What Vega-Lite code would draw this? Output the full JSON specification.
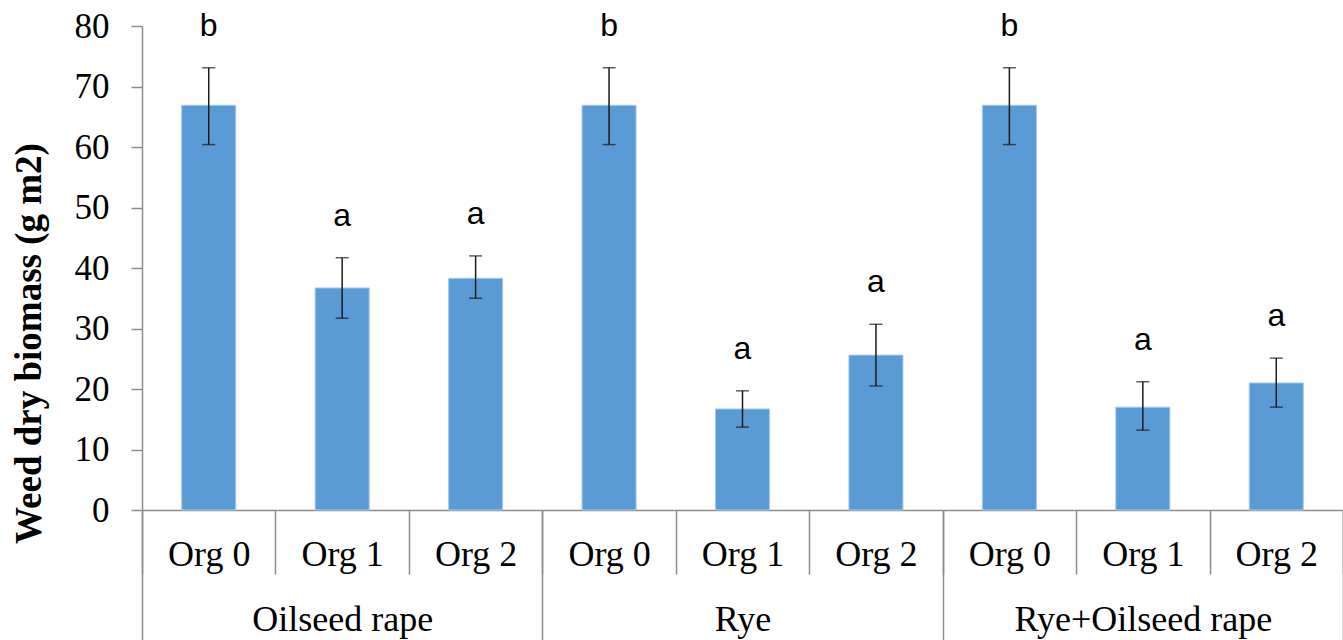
{
  "$schema": "https://vega.github.io/schema/vega-lite/v6.json",
  "autosize": "none",
  "width": 1201,
  "height": 484,
  "padding": {"left": 142, "top": 26, "right": 0, "bottom": 130},
  "background": "white",
  "config": {"view": {"stroke": null}},
  "data": {"values": [
    {"key": "OSR|Org 0", "group": "Oilseed rape", "org": "Org 0", "mean": 66.9, "lower": 60.4, "upper": 73.1, "letter": "b"},
    {"key": "OSR|Org 1", "group": "Oilseed rape", "org": "Org 1", "mean": 36.7, "lower": 31.7, "upper": 41.7, "letter": "a"},
    {"key": "OSR|Org 2", "group": "Oilseed rape", "org": "Org 2", "mean": 38.3, "lower": 35.0, "upper": 42.0, "letter": "a"},
    {"key": "Rye|Org 0", "group": "Rye", "org": "Org 0", "mean": 66.9, "lower": 60.4, "upper": 73.1, "letter": "b"},
    {"key": "Rye|Org 1", "group": "Rye", "org": "Org 1", "mean": 16.7, "lower": 13.7, "upper": 19.7, "letter": "a"},
    {"key": "Rye|Org 2", "group": "Rye", "org": "Org 2", "mean": 25.6, "lower": 20.5, "upper": 30.7, "letter": "a"},
    {"key": "RO|Org 0", "group": "Rye+Oilseed rape", "org": "Org 0", "mean": 66.9, "lower": 60.4, "upper": 73.1, "letter": "b"},
    {"key": "RO|Org 1", "group": "Rye+Oilseed rape", "org": "Org 1", "mean": 17.0, "lower": 13.2, "upper": 21.2, "letter": "a"},
    {"key": "RO|Org 2", "group": "Rye+Oilseed rape", "org": "Org 2", "mean": 21.0, "lower": 17.0, "upper": 25.1, "letter": "a"}
  ]},
  "resolve": {"scale": {"x": "independent"}, "axis": {"x": "independent"}},
  "layer": [
    {
      "layer": [
        {
          "mark": {"type": "bar", "color": "#5B9BD5", "stroke": "#A9C9EA", "strokeWidth": 1, "width": {"band": 0.405}},
          "encoding": {
            "y": {"field": "mean", "type": "quantitative"}
          }
        },
        {
          "mark": {"type": "rule", "color": "#1a1a1a", "strokeWidth": 1.5},
          "encoding": {
            "y": {"field": "lower", "type": "quantitative"},
            "y2": {"field": "upper"}
          }
        },
        {
          "mark": {"type": "tick", "color": "#1a1a1a", "thickness": 1.5, "size": 13},
          "encoding": {"y": {"field": "lower", "type": "quantitative"}}
        },
        {
          "mark": {"type": "tick", "color": "#1a1a1a", "thickness": 1.5, "size": 13},
          "encoding": {"y": {"field": "upper", "type": "quantitative"}}
        },
        {
          "mark": {"type": "text", "font": "Liberation Sans", "fontSize": 32, "color": "#000000", "baseline": "alphabetic", "dy": -32},
          "encoding": {
            "y": {"field": "upper", "type": "quantitative"},
            "text": {"field": "letter"}
          }
        }
      ],
      "encoding": {
        "x": {
          "field": "key", "type": "nominal", "sort": null,
          "scale": {"paddingInner": 0, "paddingOuter": 0},
          "axis": {
            "orient": "bottom",
            "title": null,
            "labelExpr": "split(datum.label, '|')[1]",
            "labelAngle": 0,
            "labelFont": "Liberation Serif",
            "labelFontSize": 36,
            "labelColor": "#000000",
            "labelBaseline": "alphabetic",
            "labelPadding": -9,
            "labelLimit": 400,
            "tickBand": "extent",
            "tickSize": 64,
            "tickColor": "#8C8C8C",
            "tickWidth": 1.5,
            "domainColor": "#8C8C8C",
            "domainWidth": 1.5
          }
        },
        "y": {
          "type": "quantitative",
          "scale": {"domain": [0, 80], "nice": false},
          "axis": {
            "values": [0, 10, 20, 30, 40, 50, 60, 70, 80],
            "grid": false,
            "title": "Weed dry biomass (g m2)",
            "titleFont": "Liberation Serif",
            "titleFontSize": 37,
            "titleFontWeight": "bold",
            "titleColor": "#000000",
            "titleAngle": 270,
            "titleAlign": "center",
            "titleBaseline": "middle",
            "titleX": -113,
            "titleY": 317,
            "titleLimit": 600,
            "labelFont": "Liberation Serif",
            "labelFontSize": 35,
            "labelColor": "#000000",
            "labelPadding": 22,
            "tickSize": 11,
            "tickColor": "#8C8C8C",
            "tickWidth": 1.5,
            "domainColor": "#8C8C8C",
            "domainWidth": 1.5
          }
        }
      }
    },
    {
      "mark": {"type": "point", "opacity": 0},
      "encoding": {
        "x": {
          "field": "group", "type": "nominal", "sort": null,
          "scale": {"paddingInner": 0, "paddingOuter": 0},
          "axis": {
            "orient": "bottom",
            "title": null,
            "domain": false,
            "labelAngle": 0,
            "labelFont": "Liberation Serif",
            "labelFontSize": 36,
            "labelColor": "#000000",
            "labelBaseline": "alphabetic",
            "labelPadding": -10,
            "labelLimit": 500,
            "tickBand": "extent",
            "tickSize": 130,
            "tickColor": "#8C8C8C",
            "tickWidth": 1.5
          }
        }
      }
    }
  ]
}
